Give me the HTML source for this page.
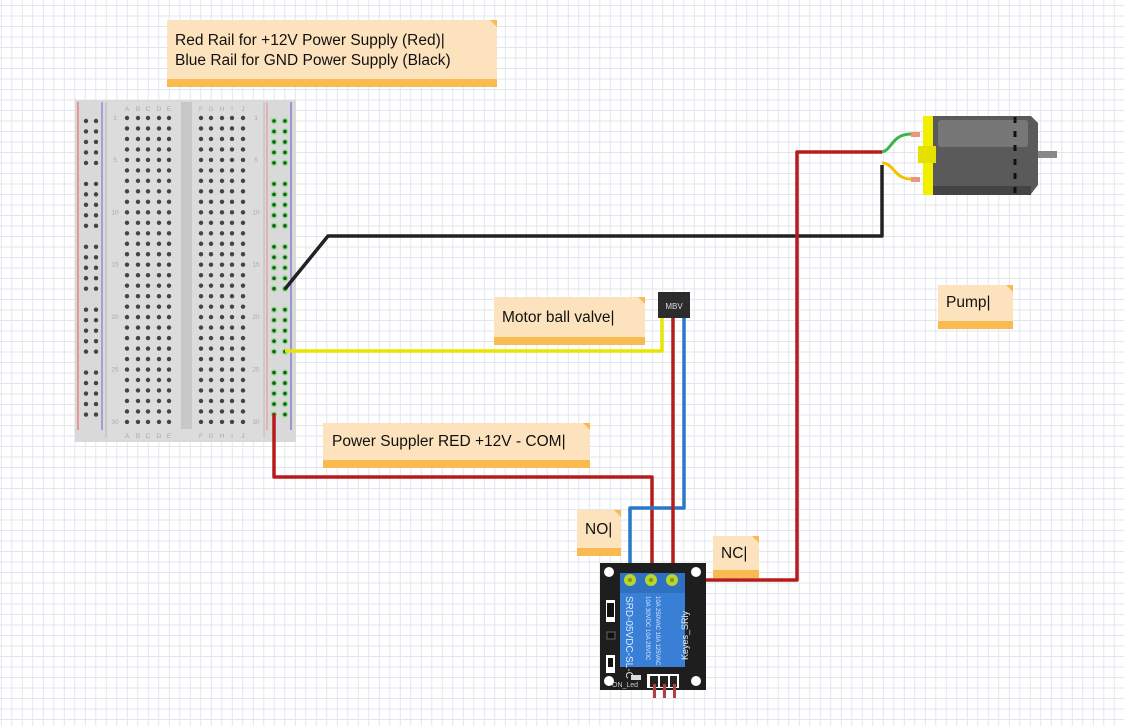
<!DOCTYPE html>
<html><head><meta charset="utf-8"><style>
html,body{margin:0;padding:0;width:1124px;height:726px;overflow:hidden;background:#fff}
svg{display:block}
text{font-family:"Liberation Sans","DejaVu Sans",sans-serif}
</style></head><body>
<svg id="s" width="1124" height="726" viewBox="0 0 1124 726" xmlns="http://www.w3.org/2000/svg">
<defs>
<pattern id="g" x="0.8" y="5" width="10.5" height="10.5" patternUnits="userSpaceOnUse"><path d="M0.5 0V10.5M0 0.5H10.5" fill="none" stroke="#e2e6ee" stroke-width="1"/></pattern>
</defs>
<rect width="1124" height="726" fill="url(#g)"/>

<!-- notes -->
<g>
<rect x="167" y="20" width="330" height="67" fill="#fde3bd"/><rect x="167" y="79" width="330" height="8" fill="#f9bb50"/><path d="M490 20h7v7z" fill="#f9bb50"/>
<text x="175" y="45" font-size="15.5" fill="#111">Red Rail for +12V Power Supply (Red)|</text>
<text x="175" y="65" font-size="15.5" fill="#111">Blue Rail for GND Power Supply (Black)</text>

<rect x="494" y="297" width="151" height="48" fill="#fde3bd"/><rect x="494" y="337" width="151" height="8" fill="#f9bb50"/><path d="M638 297h7v7z" fill="#f9bb50"/>
<text x="502" y="322" font-size="15.5" fill="#111">Motor ball valve|</text>

<rect x="323" y="423" width="267" height="45" fill="#fde3bd"/><rect x="323" y="460" width="267" height="8" fill="#f9bb50"/><path d="M583 423h7v7z" fill="#f9bb50"/>
<text x="332" y="446" font-size="15.5" fill="#111">Power Suppler RED +12V - COM|</text>

<rect x="577" y="510" width="44" height="46" fill="#fde3bd"/><rect x="577" y="548" width="44" height="8" fill="#f9bb50"/><path d="M614 510h7v7z" fill="#f9bb50"/>
<text x="585" y="534" font-size="15.5" fill="#111">NO|</text>

<rect x="713" y="536" width="46" height="42" fill="#fde3bd"/><rect x="713" y="570" width="46" height="8" fill="#f9bb50"/><path d="M752 536h7v7z" fill="#f9bb50"/>
<text x="721" y="558" font-size="15.5" fill="#111">NC|</text>

<rect x="938" y="285" width="75" height="44" fill="#fde3bd"/><rect x="938" y="321" width="75" height="8" fill="#f9bb50"/><path d="M1006 285h7v7z" fill="#f9bb50"/>
<text x="946" y="307" font-size="15.5" fill="#111">Pump|</text>
</g>

<!-- breadboard -->
<g id="bb">
<rect x="75" y="100" width="221" height="342" fill="#d9d9d9"/>
<rect x="108" y="102" width="156" height="338" fill="#dcdcdc"/>
<line x1="106" y1="102" x2="106" y2="438" stroke="#bbb"/>
<line x1="264" y1="102" x2="264" y2="438" stroke="#bbb"/>
<rect x="181" y="102" width="11" height="327" fill="#c8c8c8"/>
<line x1="78" y1="102" x2="78" y2="430" stroke="#e55" stroke-width="1"/>
<line x1="102" y1="102" x2="102" y2="430" stroke="#66d" stroke-width="1"/>
<line x1="267" y1="102" x2="267" y2="430" stroke="#e88" stroke-width="1"/>
<line x1="291" y1="102" x2="291" y2="430" stroke="#55c" stroke-width="1"/>
</g>

<!-- motor -->
<g>
<rect x="1035" y="151" width="22" height="7" fill="#888"/>
<path d="M933 116h98l7 7v62l-7 9h-98z" fill="#5a5a5a"/>
<rect x="938" y="120" width="90" height="27" rx="3" fill="#777"/>
<rect x="933" y="186" width="98" height="9" fill="#444"/>
<line x1="1015" y1="117" x2="1015" y2="194" stroke="#111" stroke-width="3" stroke-dasharray="6 8"/>
<rect x="923" y="116" width="10" height="79" fill="#f0f000"/>
<rect x="918" y="146" width="18" height="17" fill="#e5e000"/>
<rect x="911" y="132" width="9" height="5" fill="#e9967a"/>
<rect x="911" y="177" width="9" height="5" fill="#e9967a"/>
<path d="M882 152c10-2 10-18 29-18" stroke="#3bb54a" stroke-width="3" fill="none"/>
<path d="M882 163c12 0 12 16 29 16" stroke="#f6c000" stroke-width="3" fill="none"/>
</g>

<!-- MBV -->
<g>
<rect x="658" y="292" width="32" height="26" fill="#2c2c2c"/>
<text x="674" y="309" font-size="8" fill="#ddd" text-anchor="middle" font-family="Liberation Mono">MBV</text>
</g>

<!-- wires -->
<g fill="none" stroke-linejoin="round" stroke-width="3.5">
<polyline points="285,289 328,236 882,236 882,165" stroke="#222"/>
<polyline points="285,351 662,351 662,318" stroke="#e6e600"/>
<polyline points="274,414 274,477 652,477 652,580" stroke="#b71c1c"/>
<polyline points="684,318 684,508 630,508 630,580" stroke="#2b78c8"/>
<polyline points="673,318 673,580" stroke="#b71c1c"/>
<polyline points="673,580 797,580 797,152 882,152" stroke="#b71c1c"/>
</g>

<!-- relay -->
<g>
<rect x="600" y="563" width="106" height="127" fill="#1e1e1e"/>
<circle cx="609" cy="572" r="5" fill="#fff"/><circle cx="696" cy="572" r="5" fill="#fff"/>
<circle cx="609" cy="681" r="5" fill="#fff"/><circle cx="696" cy="681" r="5" fill="#fff"/>
<rect x="620" y="573" width="65" height="94" fill="#3a7fd6"/>
<rect x="620" y="573" width="65" height="20" fill="#2f70c0"/>
<circle cx="630" cy="580" r="6" fill="#b8d430"/><circle cx="651" cy="580" r="6" fill="#b8d430"/><circle cx="672" cy="580" r="6" fill="#b8d430"/>
<circle cx="630" cy="580" r="2" fill="#7c9a10"/><circle cx="651" cy="580" r="2" fill="#7c9a10"/><circle cx="672" cy="580" r="2" fill="#7c9a10"/>
<text transform="translate(626,596) rotate(90)" font-size="10" fill="#d8e8ff">SRD-05VDC-SL-C</text>
<text transform="translate(646,596) rotate(90)" font-size="6" fill="#d8e8ff">10A 30VDC 10A 28VDC</text>
<text transform="translate(656,596) rotate(90)" font-size="6" fill="#d8e8ff">10A 250VAC 10A 125VAC</text>
<text transform="translate(688,660) rotate(-90)" font-size="9" fill="#eee">Keyes_SRly</text>
<rect x="606" y="600" width="9" height="22" fill="#fff"/><rect x="607" y="603" width="7" height="14" fill="#111"/>
<rect x="607" y="632" width="8" height="7" fill="#111" stroke="#666"/>
<rect x="606" y="655" width="9" height="18" fill="#fff"/><rect x="608" y="658" width="5" height="9" fill="#111"/>
<text x="612" y="687" font-size="7" fill="#ccc">ON_Led</text>
<rect x="631" y="675" width="10" height="5" fill="#ddd"/>
<rect x="647" y="674" width="32" height="14" fill="#fff"/>
<rect x="650" y="676" width="8" height="11" fill="#222"/><rect x="660" y="676" width="8" height="11" fill="#222"/><rect x="670" y="676" width="7" height="11" fill="#222"/>
<rect x="653" y="684" width="3" height="14" fill="#b04040"/><rect x="663" y="684" width="3" height="14" fill="#b04040"/><rect x="673" y="684" width="3" height="14" fill="#b04040"/>
</g>
</svg>
<script>
var s=document.getElementById('bb'),N='http://www.w3.org/2000/svg';
function c(x,y,r,f){var e=document.createElementNS(N,'circle');e.setAttribute('cx',x);e.setAttribute('cy',y);e.setAttribute('r',r);e.setAttribute('fill',f);s.appendChild(e);}
function t(x,y,str){var e=document.createElementNS(N,'text');e.setAttribute('x',x);e.setAttribute('y',y);e.setAttribute('font-size','6.5');e.setAttribute('fill','#aaa');e.setAttribute('text-anchor','middle');e.textContent=str;s.appendChild(e);}
var cols=[127,138,148,159,169,201,211,222,232,243];
for(var r=0;r<30;r++){var y=118+r*10.48;for(var i=0;i<10;i++){c(cols[i],y,2.2,'#444');}}
var L='ABCDEFGHIJ';for(var i=0;i<10;i++){t(cols[i],111,L[i]);t(cols[i],438,L[i]);}
[1,5,10,15,20,25,30].forEach(function(n){var y=120+(n-1)*10.48;t(115,y,n);t(256,y,n);});
for(var g=0;g<5;g++)for(var k=0;k<5;k++){var y=121+g*62.9+k*10.48;
c(86,y,2.2,'#444');c(96,y,2.2,'#444');
c(274,y,3.2,'#8fe08f');c(285,y,3.2,'#8fe08f');c(274,y,1.8,'#1a5a1a');c(285,y,1.8,'#1a5a1a');}
</script>
</body></html>
